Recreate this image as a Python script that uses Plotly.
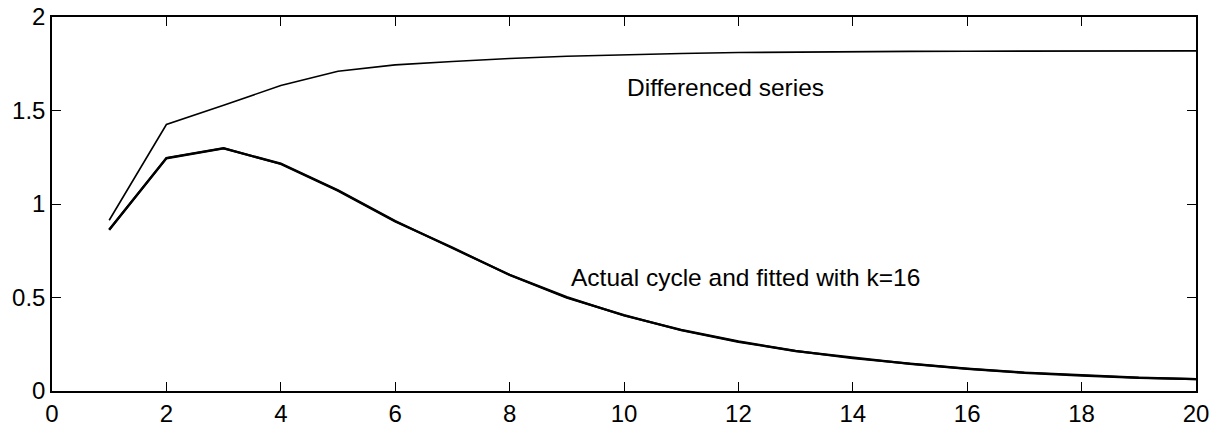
import plotly.graph_objects as go

# Horizon (periods after the shock)
horizon = list(range(1, 21))

# Response of the differenced series
differenced = [0.913, 1.425, 1.528, 1.634, 1.710, 1.744, 1.762, 1.778, 1.790, 1.798,
               1.805, 1.810, 1.813, 1.815, 1.816, 1.817, 1.818, 1.818, 1.819, 1.819]

# Actual cycle response
actual_cycle = [0.862, 1.246, 1.299, 1.214, 1.071, 0.906, 0.767, 0.620, 0.499, 0.406,
                0.325, 0.263, 0.213, 0.177, 0.145, 0.118, 0.097, 0.082, 0.070, 0.063]

# Fitted cycle response with k=16
fitted_cycle = [0.862, 1.244, 1.297, 1.216, 1.074, 0.909, 0.764, 0.622, 0.502, 0.404,
                0.327, 0.265, 0.215, 0.175, 0.146, 0.120, 0.099, 0.083, 0.071, 0.064]

x_ticks = [0, 2, 4, 6, 8, 10, 12, 14, 16, 18, 20]
y_ticks = [0, 0.5, 1, 1.5, 2]
y_tick_text = ["0", "0.5", "1", "1.5", "2"]

fig = go.Figure()
fig.add_trace(go.Scatter(x=horizon, y=differenced, mode="lines",
                         line=dict(color="black", width=1.6), name="Differenced series"))
fig.add_trace(go.Scatter(x=horizon, y=actual_cycle, mode="lines",
                         line=dict(color="black", width=2.2), name="Actual cycle"))
fig.add_trace(go.Scatter(x=horizon, y=fitted_cycle, mode="lines",
                         line=dict(color="black", width=2.2), name="Fitted, k=16"))

font_family = "Liberation Sans, Arial, sans-serif"

fig.add_annotation(x=10.02, y=1.625, text="Differenced series", showarrow=False,
                   xanchor="left", yanchor="middle",
                   font=dict(family=font_family, size=24.5, color="black"))
fig.add_annotation(x=9.04, y=0.606, text="Actual cycle and fitted with k=16", showarrow=False,
                   xanchor="left", yanchor="middle",
                   font=dict(family=font_family, size=24.5, color="black"))

axis_common = dict(showline=True, linecolor="black", linewidth=1.5, mirror="ticks",
                   ticks="inside", ticklen=9, tickwidth=1.2, tickcolor="black",
                   showgrid=False, zeroline=False, automargin=False,
                   tickfont=dict(family=font_family, size=24, color="black"))

fig.update_xaxes(range=[0, 20], tickvals=x_ticks, **axis_common)
fig.update_yaxes(range=[0, 2], tickvals=y_ticks, ticktext=y_tick_text, **axis_common)

fig.update_layout(width=1215, height=429, showlegend=False,
                  plot_bgcolor="white", paper_bgcolor="white",
                  margin=dict(l=52, r=19, t=17, b=38))

fig.write_html("out.html")
